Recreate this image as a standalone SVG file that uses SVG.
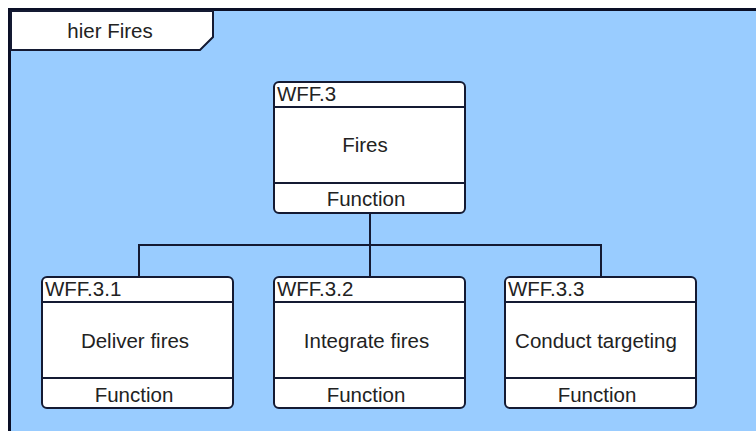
<svg xmlns="http://www.w3.org/2000/svg" width="756" height="431" viewBox="0 0 756 431">
<style>
.box{fill:#fff;stroke:#141a33;stroke-width:2}
.sep{stroke:#141a33;stroke-width:2}
.conn{fill:none;stroke:#141a33;stroke-width:2}
text{font-family:"Liberation Sans",Arial,sans-serif;font-size:20.5px;fill:#222}
.c{text-anchor:middle}
</style>
<rect x="0" y="0" width="756" height="431" fill="#fff"/>
<rect x="9.5" y="9.5" width="760" height="430" fill="#99ccff" stroke="#0a0f26" stroke-width="3"/>
<g id="title">
<path d="M11 11 H213 V37 L200 50 H11 Z" fill="#fff" stroke="#141a33" stroke-width="2"/>
<text x="110" y="38" class="c">hier Fires</text>
</g>
<g id="connectors">
<path class="conn" d="M370 213 V277 M370 245 H139 V277 M370 245 H601 V277"/>
</g>
<g id="n0">
<rect class="box" x="274" y="82" width="191" height="131" rx="5"/>
<line class="sep" x1="274" y1="107" x2="465" y2="107"/>
<line class="sep" x1="274" y1="183" x2="465" y2="183"/>
<text x="277" y="101">WFF.3</text>
<text x="365" y="152" class="c">Fires</text>
<text x="366" y="206" class="c">Function</text>
</g>
<g id="n1">
<rect class="box" x="42" y="277" width="191" height="131" rx="5"/>
<line class="sep" x1="42" y1="302" x2="233" y2="302"/>
<line class="sep" x1="42" y1="378" x2="233" y2="378"/>
<text x="45" y="296">WFF.3.1</text>
<text x="135" y="348" class="c">Deliver fires</text>
<text x="134" y="402" class="c">Function</text>
</g>
<g id="n2">
<rect class="box" x="274" y="277" width="191" height="131" rx="5"/>
<line class="sep" x1="274" y1="302" x2="465" y2="302"/>
<line class="sep" x1="274" y1="378" x2="465" y2="378"/>
<text x="277" y="296">WFF.3.2</text>
<text x="366.5" y="348" class="c">Integrate fires</text>
<text x="366" y="402" class="c">Function</text>
</g>
<g id="n3">
<rect class="box" x="505" y="277" width="191" height="131" rx="5"/>
<line class="sep" x1="505" y1="302" x2="696" y2="302"/>
<line class="sep" x1="505" y1="378" x2="696" y2="378"/>
<text x="508" y="296">WFF.3.3</text>
<text x="596" y="348" class="c">Conduct targeting</text>
<text x="597" y="402" class="c">Function</text>
</g>
</svg>
